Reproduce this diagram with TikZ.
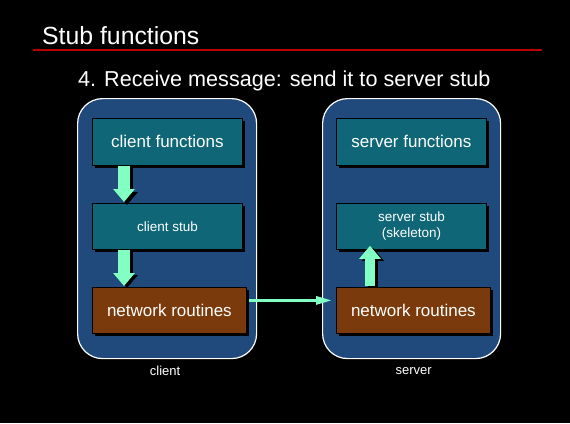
\documentclass[tikz,border=0pt]{standalone}
\usepackage{fontspec}
\setmainfont{Liberation Sans}
\usetikzlibrary{arrows.meta,calc,shadows}
\definecolor{contblue}{RGB}{32,73,124}
\definecolor{tealbox}{RGB}{14,102,118}
\definecolor{brownbox}{RGB}{122,58,12}
\definecolor{arrgreen}{RGB}{130,255,195}
\definecolor{titlered}{RGB}{185,0,0}
\begin{document}
\begin{tikzpicture}[x=1pt,y=-1pt,
  container/.style={draw=white, line width=1.2pt, fill=contblue, rounded corners=25pt,
    anchor=north west, inner sep=0pt},
  boxbase/.style={draw=black, line width=0.8pt, anchor=north west, text=white,
    inner sep=0pt, align=center,
    general shadow={fill=black, shadow xshift=3pt, shadow yshift=-3pt}},
  funcbox/.style={boxbase, fill=tealbox, minimum width=150pt, minimum height=47pt,
    font=\fontsize{17}{19}\selectfont},
  stubbox/.style={boxbase, fill=tealbox, minimum width=150pt, minimum height=46pt,
    font=\fontsize{13.5}{16}\selectfont},
  netbox/.style={boxbase, fill=brownbox, minimum width=154pt, minimum height=46pt,
    font=\fontsize{17}{20}\selectfont},
  blockarr/.style={arrgreen, line width=12pt, -{Triangle[length=13pt,width=21pt]}},
  blockarrshadow/.style={black, line width=12pt, -{Triangle[length=13pt,width=21pt]}},
  thinarr/.style={arrgreen, line width=3pt, -{Triangle[length=16pt,width=8pt]}},
  caption/.style={text=white, font=\fontsize{13}{15}\selectfont, inner sep=0pt}
]
\fill[black] (0,0) rectangle (570,423);
\useasboundingbox (0,0) rectangle (570,423);

% title
\node[anchor=base west, inner sep=0pt, text=white, font=\fontsize{24.8}{29}\selectfont]
  (title) at (42,44.5) {Stub functions};
\coordinate (rl) at (33,49.5);
\coordinate (rr) at (542,49.5);
\draw[titlered, line width=2pt] (rl) -- (rr);
\node[anchor=base west, inner sep=0pt, text=white, font=\fontsize{21.6}{26}\selectfont]
  (sub) at (78,86) {4. Receive message: send it to server stub};

% containers
\node[container, minimum width=179pt, minimum height=260pt] (client) at (77,98) {};
\node[container, minimum width=178pt, minimum height=260pt] (server) at (322,98) {};

% client boxes
\node[funcbox] (cf) at (92,118) {client functions};
\node[stubbox] (cs) at (92,203) {client stub};
\node[netbox] (cn) at (92,287) {network routines};

% server boxes
\node[funcbox] (sf) at (336,118) {server functions};
\node[stubbox] (ss) at (336,203) {server stub\\(skeleton)};
\node[netbox] (sn) at (336,287) {network routines};

% block arrows (client, down)
\draw[blockarrshadow] ($(cf.south west)+(35,1)$) -- ($(cs.north west)+(35,2)$);
\draw[blockarr] ($(cf.south west)+(32,0)$) -- ($(cs.north west)+(32,-1)$);
\draw[blockarrshadow] ($(cs.south west)+(35,1)$) -- ($(cn.north west)+(35,1)$);
\draw[blockarr] ($(cs.south west)+(32,0)$) -- ($(cn.north west)+(32,-1)$);

% block arrow (server, up)
\draw[blockarrshadow, line width=10pt] ($(sn.north west)+(37,0)$) -- ($(ss.south west)+(37,-2)$);
\draw[blockarr, line width=10pt] ($(sn.north west)+(34,-1)$) -- ($(ss.south west)+(34,-4)$);

% network arrow
\draw[thinarr, shorten <=2pt, shorten >=4pt] ($(cn.east)+(0,-10)$) -- ($(sn.west)+(0,-10)$);

% captions
\node[caption] (clab) at ($(client.south)+(-2,12)$) {client};
\node[caption] (slab) at ($(server.south)+(2,12)$) {server};
\end{tikzpicture}
\end{document}
